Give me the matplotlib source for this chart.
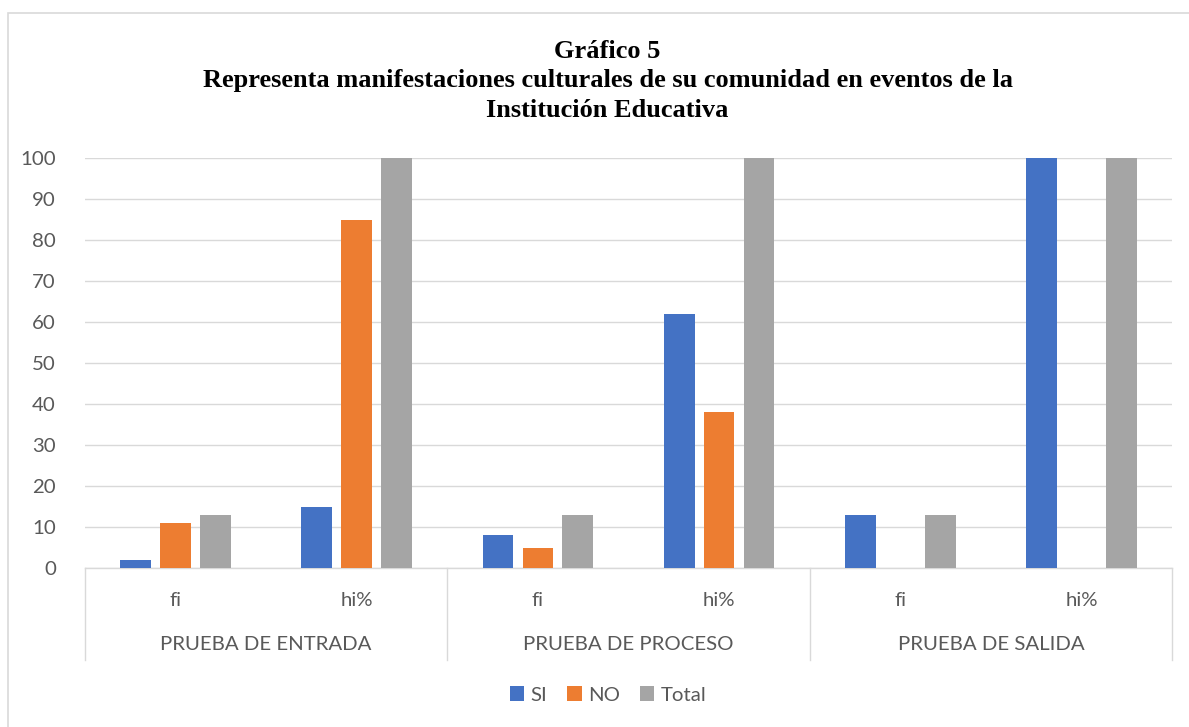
import matplotlib

matplotlib.use("Agg")

import matplotlib.pyplot as plt
import numpy as np
from matplotlib.patches import Rectangle

plt.rcParams["font.family"] = ["Lato", "DejaVu Sans"]

# data
groups = ["PRUEBA DE ENTRADA", "PRUEBA DE PROCESO", "PRUEBA DE SALIDA"]
sub_labels = ["fi", "hi%", "fi", "hi%", "fi", "hi%"]
si_values = [2, 15, 8, 62, 13, 100]
no_values = [11, 85, 5, 38, 0, 0]
total_values = [13, 100, 13, 100, 13, 100]
series_names = ["SI", "NO", "Total"]
colors = ["#4472C4", "#ED7D31", "#A5A5A5"]
yticks = list(range(0, 101, 10))

title = (
    "Gráfico 5\n"
    "Representa manifestaciones culturales de su comunidad en eventos de la\n"
    "Institución Educativa"
)

LABEL_SIZE = 14.7
LABEL_COLOR = "#595959"

fig = plt.figure(figsize=(11.89, 7.27), dpi=100)
fig.patches.append(
    Rectangle((8 / 1189, -0.01), 1.0, 1 - 13 / 727 + 0.01, transform=fig.transFigure,
              fill=False, edgecolor="#d9d9d9", linewidth=1.2)
)
ax = fig.add_axes([85 / 1189, 1 - 568 / 727, (1172 - 85) / 1189, 410 / 727])

x = np.arange(len(sub_labels))
width = 0.17
offset = 0.22
bars = []
for k, (vals, name, color) in enumerate(zip([si_values, no_values, total_values], series_names, colors)):
    b = ax.bar(x + (k - 1) * offset, vals, width, color=color, label=name, zorder=3)
    bars.append(b)

ax.set_xlim(-0.5, len(sub_labels) - 0.5)
ax.set_ylim(0, 100)
ax.set_yticks(yticks)
ax.yaxis.grid(True, color="#d9d9d9", linewidth=1.0, zorder=0)
ax.tick_params(axis="y", length=0, pad=21, labelsize=LABEL_SIZE, labelcolor=LABEL_COLOR)
ax.set_xticks([])
for side in ["top", "right", "left"]:
    ax.spines[side].set_visible(False)
ax.spines["bottom"].set_color("#d9d9d9")
ax.spines["bottom"].set_linewidth(1.0)

# two-level category axis
depth = -92 / 410
for sep in [-0.5, 1.5, 3.5, 5.5]:
    ax.plot([sep, sep], [0, depth], transform=ax.get_xaxis_transform(),
            color="#d9d9d9", linewidth=1.0, clip_on=False)
for xi, lab in zip(x, sub_labels):
    ax.text(xi, -33 / 410, lab, transform=ax.get_xaxis_transform(),
            ha="center", va="center", fontsize=LABEL_SIZE, color=LABEL_COLOR)
for g, name in enumerate(groups):
    ax.text(2 * g + 0.5, -77 / 410, name, transform=ax.get_xaxis_transform(),
            ha="center", va="center", fontsize=LABEL_SIZE, color=LABEL_COLOR)

fig.text(0.511, 1 - 81 / 727, title, ha="center", va="center",
         fontsize=19, fontweight="bold", family="Liberation Serif",
         linespacing=1.35)

fig.legend(handles=bars, labels=series_names, loc="center",
           bbox_to_anchor=(608 / 1189, 1 - 695 / 727), ncol=3, frameon=False,
           fontsize=LABEL_SIZE, handlelength=0.7, handleheight=0.7,
           handletextpad=0.3, columnspacing=1.0, labelcolor=LABEL_COLOR)

fig.savefig("out.png", dpi=100)
